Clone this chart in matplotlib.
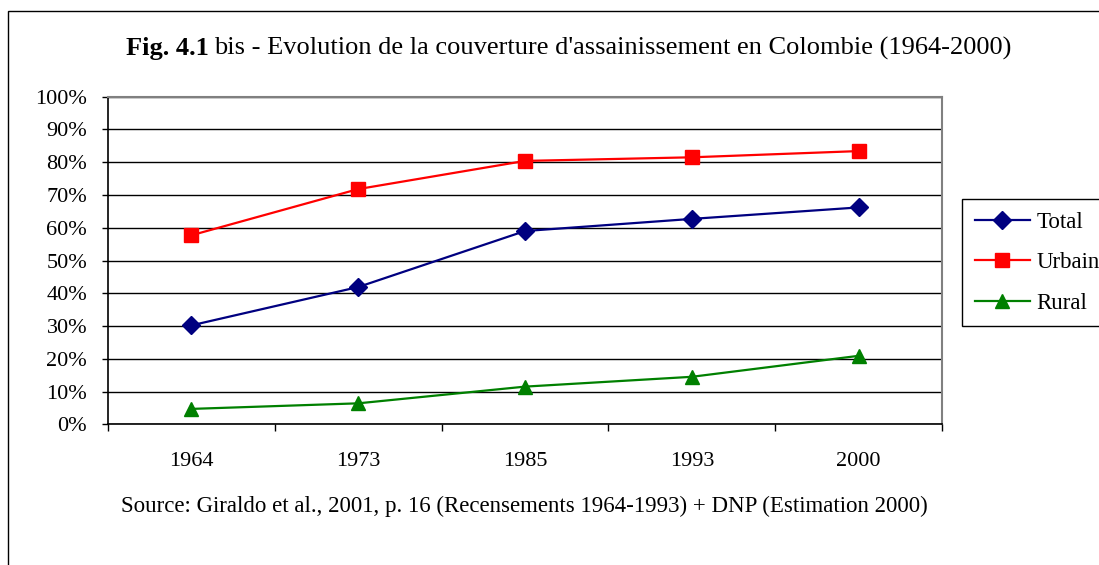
import matplotlib.pyplot as plt
from matplotlib.patches import Rectangle

# Daten
annees = ['1964', '1973', '1985', '1993', '2000']
total = [30.2, 41.9, 59.0, 62.7, 66.2]
urbain = [57.7, 71.8, 80.4, 81.5, 83.4]
rural = [4.7, 6.4, 11.5, 14.5, 20.9]

plt.rcParams['font.family'] = ['Liberation Serif', 'DejaVu Serif']

W, H = 1099, 565
fig = plt.figure(figsize=(W / 100, H / 100), dpi=100)
ax = fig.add_axes([108 / W, 1 - 424.3 / H, (942 - 108) / W, (424.3 - 96.7) / H])

x = range(len(annees))
ax.plot(x, total, color='#000080', marker='D', ms=9, lw=1.6, label='Total')
ax.plot(x, urbain, color='#FF0000', marker='s', ms=10, lw=1.6, label='Urbain')
ax.plot(x, rural, color='#008000', marker='^', ms=10, lw=1.6, label='Rural')

ax.set_xlim(-0.5, len(annees) - 0.5)
ax.set_ylim(0, 100)
ax.set_yticks(range(0, 101, 10))
ax.set_yticklabels([f'{v}%' for v in range(0, 101, 10)], fontsize=16)
ax.set_xticks([i - 0.5 for i in range(len(annees) + 1)])
ax.set_xticklabels([])
ax.set_xticks(list(x), minor=True)
ax.set_xticklabels(annees, minor=True, fontsize=16)
ax.tick_params(axis='x', which='minor', length=0, pad=20)
ax.tick_params(axis='x', which='major', direction='out', length=5, width=1)
ax.tick_params(axis='y', direction='out', length=4, width=1, pad=11)
ax.grid(axis='y', color='black', lw=1)
ax.set_axisbelow(True)
ax.spines['top'].set_color('#808080')
ax.spines['right'].set_color('#808080')
ax.spines['top'].set_linewidth(1.5)
ax.spines['right'].set_linewidth(1.5)
ax.spines['left'].set_linewidth(1.2)
ax.spines['bottom'].set_linewidth(1.2)

# Titel (fett + normal)
t1 = fig.text(126 / W, 1 - 55 / H, 'Fig. 4.1', fontsize=19, fontweight='bold', va='baseline')
fig.canvas.draw()
bb = t1.get_window_extent()
fig.text(bb.x1 / W + 0.005, 1 - 55 / H,
         "bis - Evolution de la couverture d'assainissement en Colombie (1964-2000)",
         fontsize=19, va='baseline')

# Quelle
fig.text(524 / W, 1 - 512 / H,
         'Source: Giraldo et al., 2001, p. 16 (Recensements 1964-1993) + DNP (Estimation 2000)',
         fontsize=16.5, ha='center', va='baseline')

# Rahmen
fig.patches.append(Rectangle((8 / W, -0.1), 1.2, 1 - 11 / H + 0.1, transform=fig.transFigure,
                             fill=False, edgecolor='black', lw=1))

leg = fig.legend(loc='upper left', bbox_to_anchor=(962 / W, 1 - 199 / H), fontsize=16.5,
                 frameon=True, fancybox=False, edgecolor='black', framealpha=1,
                 borderaxespad=0, handlelength=2.4, borderpad=0.55, labelspacing=0.85,
                 handletextpad=0.3)
leg.get_frame().set_linewidth(1)

fig.savefig('out.png', dpi=100)
